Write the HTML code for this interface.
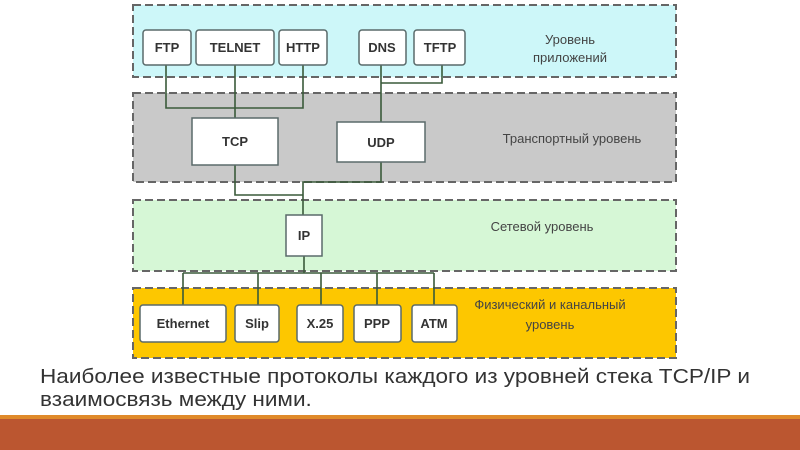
<!DOCTYPE html>
<html><head><meta charset="utf-8"><style>
body{margin:0;width:800px;height:450px;background:#fff;position:relative;overflow:hidden;font-family:"Liberation Sans",sans-serif}
.t{position:absolute;left:40px;font-size:20.5px;color:#333;white-space:nowrap;transform:scaleX(1.1);transform-origin:left top}
</style></head><body>
<svg width="800" height="450" style="position:absolute;left:0;top:0" font-family="Liberation Sans, sans-serif">
<g stroke="#666" stroke-width="2" stroke-dasharray="8,4">
<rect x="133" y="5" width="543" height="72" fill="#cdf7f9"/>
<rect x="133" y="93" width="543" height="89" fill="#c9c9c9"/>
<rect x="133" y="200" width="543" height="71" fill="#d6f7d6"/>
<rect x="133" y="288" width="543" height="70" fill="#fdc700"/>
</g>
<g stroke="#3a5a3a" stroke-width="1.6" fill="none">
<path d="M166 65V108H303V65M235 65V118"/>
<path d="M381 65V122M442 65V83H381"/>
<path d="M381 162V182H303V215M235 165V195H303"/>
<path d="M304 256V273M183 273H434M183 273V305M258 273V305M321 273V305M377 273V305M434 273V305"/>
</g>
<g fill="#fff" stroke="#5a6a6a" stroke-width="1.5">
<rect x="143" y="30" width="48" height="35" rx="3"/>
<rect x="196" y="30" width="78" height="35" rx="3"/>
<rect x="279" y="30" width="48" height="35" rx="3"/>
<rect x="359" y="30" width="47" height="35" rx="3"/>
<rect x="414" y="30" width="51" height="35" rx="3"/>
<rect x="192" y="118" width="86" height="47"/>
<rect x="337" y="122" width="88" height="40"/>
<rect x="286" y="215" width="36" height="41"/>
<rect x="140" y="305" width="86" height="37" rx="3"/>
<rect x="235" y="305" width="44" height="37" rx="3"/>
<rect x="297" y="305" width="46" height="37" rx="3"/>
<rect x="354" y="305" width="47" height="37" rx="3"/>
<rect x="412" y="305" width="45" height="37" rx="3"/>
</g>
<g font-size="13" font-weight="bold" fill="#333" text-anchor="middle">
<text x="167" y="52">FTP</text><text x="235" y="52">TELNET</text><text x="303" y="52">HTTP</text>
<text x="382" y="52">DNS</text><text x="440" y="52">TFTP</text>
<text x="235" y="146">TCP</text><text x="381" y="147">UDP</text>
<text x="304" y="240">IP</text>
<text x="183" y="328">Ethernet</text><text x="257" y="328">Slip</text><text x="320" y="328">X.25</text>
<text x="377" y="328">PPP</text><text x="434" y="328">ATM</text>
</g>
<g font-size="13" fill="#444" text-anchor="middle">
<text x="570" y="44">Уровень</text><text x="570" y="62">приложений</text>
<text x="572" y="143">Транспортный уровень</text>
<text x="542" y="231">Сетевой уровень</text>
<text x="550" y="309">Физический и канальный</text><text x="550" y="329">уровень</text>
</g>
<rect x="0" y="415" width="800" height="4" fill="#e08a2a"/>
<rect x="0" y="419" width="800" height="31" fill="#bb5630"/>
</svg>
<div class="t" style="top:365px">Наиболее известные протоколы каждого из уровней стека TCP/IP и</div>
<div class="t" style="top:388px">взаимосвязь между ними.</div>
</body></html>
